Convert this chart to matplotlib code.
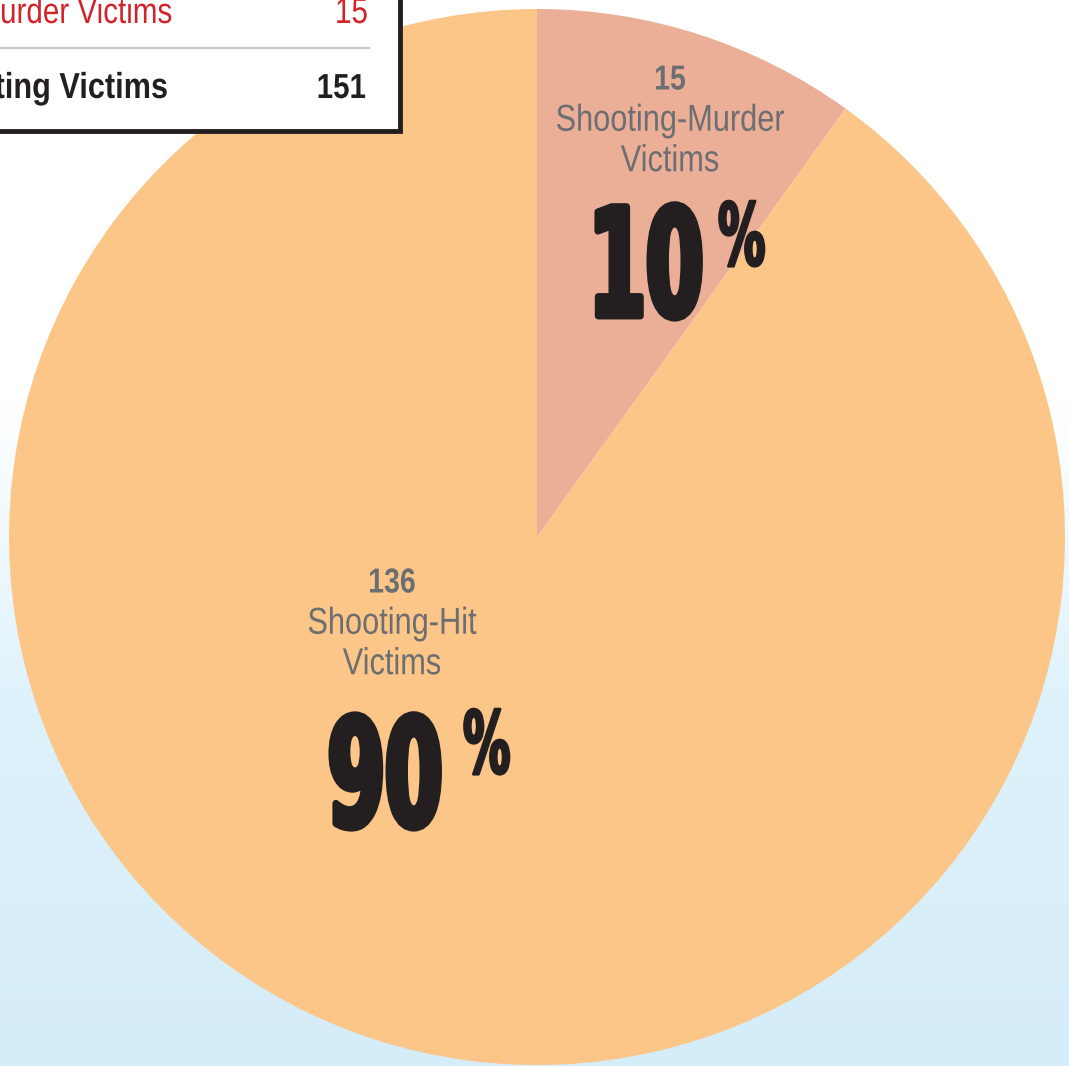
import matplotlib.pyplot as plt
import numpy as np
from matplotlib.patches import Rectangle
from matplotlib.patheffects import AbstractPathEffect
from matplotlib.transforms import Affine2D

# data
slice_labels = ["Shooting-Murder\nVictims", "Shooting-Hit\nVictims"]
slice_counts = [15, 136]
slice_pcts = ["10", "90"]
slice_colors = ["#ebaf98", "#fbc688"]
legend_rows = ["Shooting-Murder Victims", "Total Shooting Victims"]
legend_vals = [15, 151]

W, H = 1069, 1066
sans = ["Liberation Sans", "DejaVu Sans"]
heavy = ["DejaVu Sans"]


class Condense(AbstractPathEffect):
    # squeeze glyphs sideways around x0 (display px) to fake a narrow face,
    # optionally fatten them with an outline in the fill colour
    def __init__(self, x0, sx, fatten=0):
        super().__init__()
        self.x0 = x0
        self.sx = sx
        self.fatten = fatten

    def draw_path(self, renderer, gc, tpath, affine, rgbFace=None):
        squeeze = Affine2D().translate(-self.x0, 0).scale(self.sx, 1).translate(self.x0, 0)
        if self.fatten:
            gc0 = renderer.new_gc()
            gc0.copy_properties(gc)
            gc0.set_linewidth(self.fatten)
            gc0.set_foreground(rgbFace)
            gc0.set_joinstyle("round")
            renderer.draw_path(gc0, tpath, affine + squeeze, rgbFace)
            gc0.restore()
        else:
            renderer.draw_path(gc, tpath, affine + squeeze, rgbFace)


fig = plt.figure(figsize=(W / 100, H / 100), dpi=100)
ax = fig.add_axes([0, 0, 1, 1])

# background gradient, white at top to pale blue at the bottom
rows = np.arange(H)
stops_y = [0, 400, 700, H]
r = np.interp(rows, stops_y, [255, 255, 222, 213])
g = np.interp(rows, stops_y, [255, 255, 242, 237])
b = np.interp(rows, stops_y, [255, 255, 251, 249])
grad = np.stack([r, g, b], axis=1)[:, None, :] / 255.0
grad = np.repeat(grad, 2, axis=1)
ax.imshow(grad, extent=(0, W, 0, H), aspect="auto", zorder=0, interpolation="bilinear")


def py(y):
    # pixel row (from top) to data y
    return H - y


def ntext(x, y, s, sx=0.82, fatten=0, **kw):
    t = ax.text(x, py(y), s, **kw)
    t.set_path_effects([Condense(x, sx, fatten)])
    return t


cx, cy, rad = 537, py(537), 528
ax.pie(slice_counts, colors=slice_colors, startangle=90, counterclock=False,
       center=(cx, cy), radius=rad, wedgeprops=dict(linewidth=0))

grey = "#6d6e71"
dark = "#231f20"
label_pos = [(670, 80), (392, 583)]
big_pos = [(646, 316), (385, 826)]
pct_pos = [(718, 206), (463, 714)]

for i in range(len(slice_counts)):
    lx, ly = label_pos[i]
    ntext(lx, ly, str(slice_counts[i]), ha="center", va="center",
          fontsize=25, fontweight="bold", color=grey, family=sans)
    ntext(lx, ly + 61, slice_labels[i], ha="center", va="center",
          fontsize=27, color=grey, family=sans, linespacing=1.16)
    bx, by = big_pos[i]
    ntext(bx, by, slice_pcts[i], sx=0.55, fatten=5, ha="center", va="baseline",
          fontsize=108, fontweight="bold", color=dark, family=heavy)
    qx, qy = pct_pos[i]
    ntext(qx, qy - 6, "%", sx=0.55, fatten=2, ha="left", va="top",
          fontsize=62, fontweight="bold", color=dark, family=heavy)

# legend box in the top-left corner, partly cut off
ax.add_patch(Rectangle((-30, py(131)), 430, 200, facecolor="white",
                       edgecolor="#231f20", linewidth=3.5, zorder=5))
ax.plot([0, 369], [py(48), py(48)], color="#c8c8c8", linewidth=1.5, zorder=6)

ntext(172, 23, legend_rows[0], ha="right", va="baseline", fontsize=26,
      color="#d2232a", family=sans, zorder=7)
ntext(368, 23, str(legend_vals[0]), ha="right", va="baseline", fontsize=26,
      color="#d2232a", family=sans, zorder=7)
ntext(168, 98, legend_rows[1], sx=0.85, ha="right", va="baseline", fontsize=26,
      fontweight="bold", color=dark, family=sans, zorder=7)
ntext(366, 98, str(legend_vals[1]), sx=0.85, ha="right", va="baseline", fontsize=25,
      fontweight="bold", color=dark, family=sans, zorder=7)

ax.set_xlim(0, W)
ax.set_ylim(0, H)
ax.axis("off")

fig.savefig("out.png", dpi=100)
